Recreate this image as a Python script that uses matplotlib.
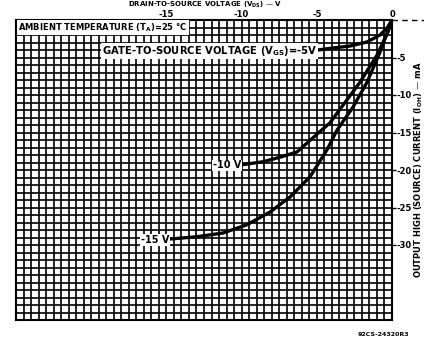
import numpy as np
import matplotlib
matplotlib.use("Agg")
import matplotlib.pyplot as plt
from matplotlib.lines import Line2D
from matplotlib.ticker import MultipleLocator

# drain-to-source voltage (V) and output high current (mA)
vds_5 = [-4.92, -3.92, -2.79, -1.66, -0.80, -0.33, 0.0]
ioh_5 = [-4.0, -3.73, -3.47, -2.93, -2.0, -1.07, 0.0]

vds_10 = [-9.97, -8.58, -7.45, -6.32, -5.65, -4.12, -3.46, -2.13, -1.0, -0.27, 0.0]
ioh_10 = [-19.3, -18.9, -18.3, -17.6, -16.4, -13.7, -11.9, -8.3, -4.7, -1.6, 0.0]

vds_15 = [-14.76, -12.97, -11.24, -9.64, -8.11, -6.78, -5.45, -4.32, -3.66, -2.59, -1.66, -0.80, -0.13, 0.0]
ioh_15 = [-29.2, -28.9, -28.4, -27.3, -25.6, -23.6, -20.9, -17.3, -14.7, -11.6, -8.3, -4.3, -0.67, 0.0]

x_ticks = [-15, -10, -5, 0]
y_ticks = [-5, -10, -15, -20, -25, -30]

plt.rcParams['font.family'] = 'DejaVu Sans'
plt.rcParams['font.weight'] = 'bold'

fig = plt.figure(figsize=(4.24, 3.39), dpi=100)
ax = fig.add_axes([16/424, 1 - 320/339, 376/424, 300/339])

ax.set_xlim(-25, 0)
ax.set_ylim(-40, 0)

ax.xaxis.set_minor_locator(MultipleLocator(0.5))
ax.yaxis.set_minor_locator(MultipleLocator(1))
ax.set_xticks(x_ticks)
ax.set_yticks(y_ticks)
ax.grid(which='both', color='black', lw=1.2)
ax.set_axisbelow(True)

ax.xaxis.tick_top()
ax.yaxis.tick_right()
ax.tick_params(axis='x', which='both', length=0, labelsize=6, pad=0.8)
ax.tick_params(axis='y', which='major', length=3, width=1, labelsize=6, pad=0.5)
ax.tick_params(axis='y', which='minor', length=0)
ax.set_xticklabels([str(v) for v in x_ticks], fontweight='bold')
ax.set_yticklabels([str(v) for v in y_ticks], fontweight='bold')

for s in ax.spines.values():
    s.set_linewidth(1.5)

ax.plot(vds_5, ioh_5, color='black', lw=2.4, zorder=3)
ax.plot(vds_10, ioh_10, color='black', lw=2.4, zorder=3)
ax.plot(vds_15, ioh_15, color='black', lw=2.4, zorder=3)

box = dict(facecolor='white', edgecolor='none', pad=0.6)
ax.text(-24.85, -1.0, 'AMBIENT TEMPERATURE (T$_\\mathregular{A}$)=25 °C', fontsize=6,
        fontweight='bold', va='center', ha='left', bbox=box, zorder=4)
ax.text(-4.95, -4.1, 'GATE-TO-SOURCE VOLTAGE (V$_\\mathregular{GS}$)=-5V', fontsize=7.2,
        fontweight='bold', va='center', ha='right', bbox=box, zorder=4)
ax.text(-10.0, -19.4, '-10 V', fontsize=7, fontweight='bold',
        va='center', ha='right', bbox=box, zorder=4)
ax.text(-14.8, -29.3, '-15 V', fontsize=7, fontweight='bold',
        va='center', ha='right', bbox=box, zorder=4)

# dashed continuation of the top border
fig.add_artist(Line2D([392/424, 1.0], [1 - 20/339] * 2, color='black',
                      lw=1, ls=(0, (4, 3))))

fig.text(419/424, 0.5, 'OUTPUT HIGH (SOURCE) CURRENT (I$_\\mathregular{OH}$) — mA',
         rotation=90, fontsize=6, fontweight='bold', ha='center', va='center')
fig.text(205/424, 1.0, 'DRAIN-TO-SOURCE VOLTAGE (V$_\\mathregular{DS}$) — V',
         fontsize=5, fontweight='bold', ha='center', va='top')
fig.text(383/424, 1 - 334/339, '92CS-24320R3', fontsize=4.5, ha='center', va='center')

fig.savefig('out.png', dpi=100)
